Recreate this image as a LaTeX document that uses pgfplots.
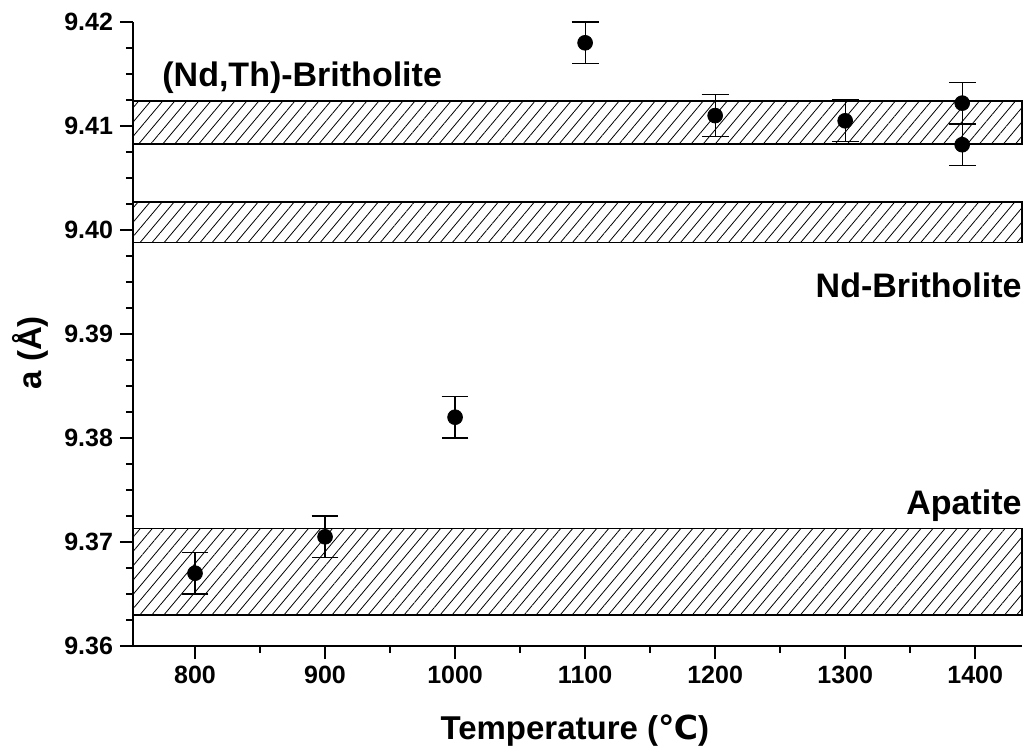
\documentclass[border=0pt]{standalone}
\usepackage{fontspec}
\setmainfont{Liberation Sans}
\newfontfamily\dejavu{DejaVu Sans}
\usepackage{pgfplots}
\pgfplotsset{compat=1.18}
\usetikzlibrary{patterns.meta}

\pgfplotstableread{
x y e
800 9.3670 0.002
900 9.3705 0.002
1000 9.3820 0.002
1100 9.4180 0.002
1200 9.4110 0.002
1300 9.4105 0.002
1390 9.4122 0.002
1390 9.4082 0.002
}\datapts

\begin{document}
\begin{tikzpicture}
\path[use as bounding box] (-66.5pt,-53.5pt) rectangle (449pt,323pt);
\begin{axis}[
  at={(0,0)}, anchor=south west,
  scale only axis, width=444.5pt, height=312pt,
  xmin=752.3, xmax=1436, ymin=9.36, ymax=9.42,
  clip=false,
  axis x line*=bottom, axis y line*=left,
  axis line style={line width=1.1pt, -},
  xtick={800,900,...,1400}, minor x tick num=1,
  ytick={9.36,9.37,9.38,9.39,9.40,9.41,9.42}, minor y tick num=3,
  tick align=outside,
  major tick length=6.5pt, minor tick length=3.5pt,
  every tick/.style={line width=1.1pt, black},
  /pgf/number format/assume math mode=true,
  /pgf/number format/1000 sep={},
  yticklabel={\pgfmathprintnumber[fixed,fixed zerofill,precision=2]{\tick}},
  ticklabel style={font=\fontsize{12.5}{14}\selectfont\bfseries},
  xlabel={Temperature ({\dejavu\bfseries ℃})},
  ylabel={a (Å)},
  label style={font=\fontsize{16.5}{19}\selectfont\bfseries},
  xlabel style={at={(axis description cs:0.497,-0.135)}, anchor=center},
  ylabel style={at={(axis description cs:-0.116,0.47)}, anchor=center},
]
% bands
\addplot[draw=black, line width=0.9pt, pattern={Lines[angle=50,distance=4.6pt,line width=0.4pt]}]
  coordinates {(752.3,9.3630) (1436,9.3630) (1436,9.3713) (752.3,9.3713)} --cycle;
\addplot[draw=black, line width=0.9pt, pattern={Lines[angle=50,distance=4.6pt,line width=0.4pt]}]
  coordinates {(752.3,9.3988) (1436,9.3988) (1436,9.4027) (752.3,9.4027)} --cycle;
\addplot[draw=black, line width=0.9pt, pattern={Lines[angle=50,distance=4.6pt,line width=0.4pt]}]
  coordinates {(752.3,9.4083) (1436,9.4083) (1436,9.4124) (752.3,9.4124)} --cycle;
% data
\addplot[only marks, mark=*, mark size=3.7pt, black,
  error bars/.cd, y dir=both, y explicit,
  error bar style={line width=0.6pt, black},
  error mark options={rotate=90, mark size=6.7pt, line width=0.6pt, black}]
  table[x=x, y=y, y error=e] {\datapts};
% band labels
\node[anchor=base west, inner sep=0pt, font=\fontsize{17}{19}\selectfont\bfseries] at (axis cs:774.6,9.41375) {(Nd,Th)-Britholite};
\node[anchor=base east, inner sep=0pt, font=\fontsize{17}{19}\selectfont\bfseries] at (axis cs:1436,9.39355) {Nd-Britholite};
\node[anchor=base east, inner sep=0pt, font=\fontsize{17}{19}\selectfont\bfseries] at (axis cs:1436,9.3726) {Apatite};
\end{axis}
\end{tikzpicture}
\end{document}
